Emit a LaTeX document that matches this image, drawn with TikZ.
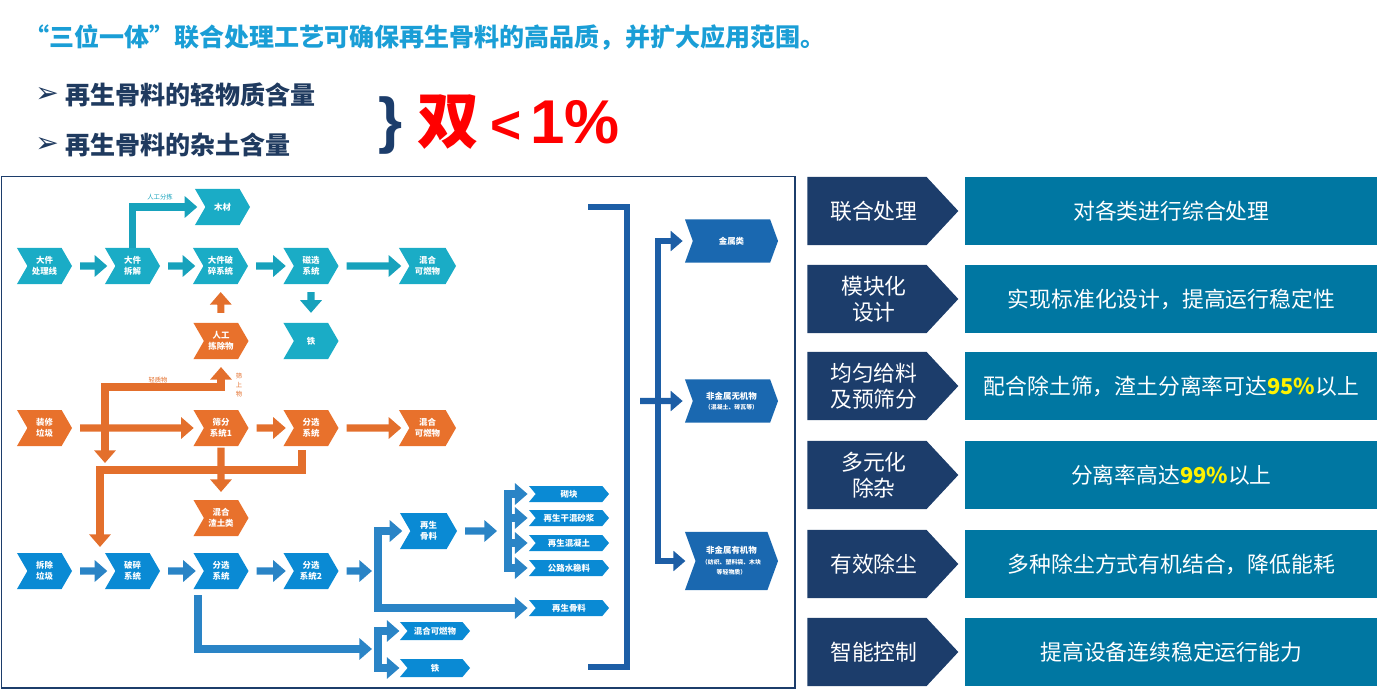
\documentclass[tikz,border=0pt]{standalone}
\usepackage{fontspec}
\setmainfont{Noto Sans CJK SC}
\newfontfamily\dejavu{DejaVu Sans}
\newfontfamily\lsans{Liberation Sans}
\usetikzlibrary{shapes.symbols,arrows.meta,calc}
\definecolor{tealc}{HTML}{1AACC6}
\definecolor{tealarr}{HTML}{17A2BC}
\definecolor{orangec}{HTML}{E8712C}
\definecolor{orangearr}{HTML}{E36F2C}
\definecolor{bluec}{HTML}{0A8AD4}
\definecolor{bluearr}{HTML}{2A84C6}
\definecolor{deepblue}{HTML}{1A68B0}
\definecolor{deeparr}{HTML}{1D5EA6}
\definecolor{navy}{HTML}{1C3D6B}
\definecolor{panel}{HTML}{0077A2}
\definecolor{titlec}{HTML}{1A9ED6}
\definecolor{bulletc}{HTML}{1F3A5F}
\newcommand{\tgpad}{\hspace*{10pt}}
\tikzset{
chev/.style={shape=signal,signal to=east,signal from=west,signal pointer angle=120,
minimum width=1.375cm,minimum height=0.9cm,inner sep=0pt,text=white,
font=\fontsize{6}{7.5}\selectfont\bfseries,align=center},
tchev/.style={chev,fill=tealc},
ochev/.style={chev,fill=orangec},
bchev/.style={chev,fill=bluec},
smallchev/.style={chev,fill=bluec,signal pointer angle=100,minimum width=2cm,minimum height=0.4cm},
bigchev/.style={chev,fill=deepblue,signal pointer angle=140,minimum width=2.325cm},
flowarr/.style={line width=5pt,-{Triangle[width=15pt,length=9pt]}},
tarr/.style={flowarr,draw=tealarr,shorten <=5.5pt,shorten >=5.5pt},
oarr/.style={flowarr,draw=orangearr,shorten <=5.5pt,shorten >=5.5pt},
barr/.style={flowarr,draw=bluearr,shorten <=5.5pt,shorten >=5.5pt},
darr/.style={line width=4.3pt,draw=deeparr,-{Triangle[width=14pt,length=8.5pt]},shorten >=7pt},
dline/.style={line width=4.3pt,draw=deeparr},
tinylabel/.style={font=\fontsize{4.5}{6.4}\selectfont,inner sep=0pt,align=center},
tagbox/.style={shape=signal,signal to=east,signal from=nowhere,signal pointer angle=94,
fill=navy,text=white,minimum width=3.775cm,minimum height=1.7cm,inner sep=0pt,
font=\fontsize{15.5}{18.5}\selectfont,align=center},
descbox/.style={fill=panel,text=white,minimum width=10.3cm,minimum height=1.7cm,inner sep=0pt,
font=\fontsize{15.5}{18.5}\selectfont}
}
\begin{document}
\begin{tikzpicture}[x=0.025cm,y=-0.025cm]
\useasboundingbox (0,0) rectangle (1379,690);

% heading
\node[anchor=west,inner sep=0pt,text=titlec,font=\fontsize{17.8}{20}\selectfont\bfseries] (title) at (24,38)
  {“三位一体”联合处理工艺可确保再生骨料的高品质，并扩大应用范围。};
\node[anchor=west,inner sep=0pt,text=bulletc,font=\dejavu\fontsize{20}{20}\selectfont] (mk1) at (35,95) {➢};
\node[anchor=west,inner sep=0pt,text=bulletc,font=\fontsize{17.8}{20}\selectfont\bfseries] (b1) at (65,95) {再生骨料的轻物质含量};
\node[anchor=west,inner sep=0pt,text=bulletc,font=\dejavu\fontsize{20}{20}\selectfont] (mk2) at (35,145) {➢};
\node[anchor=west,inner sep=0pt,text=bulletc,font=\fontsize{17.8}{20}\selectfont\bfseries] (b2) at (65,145) {再生骨料的杂土含量};
\node[text=navy,inner sep=0pt,font=\lsans\fontsize{44}{44}\selectfont\bfseries] (brace) at (391,126) {\}};
\node[text=red,inner sep=0pt,font=\fontsize{44}{44}\selectfont\bfseries] (shuang) at (448,122) {双};
\node[text=red,inner sep=0pt,font=\lsans\fontsize{38}{38}\selectfont\bfseries] (lt) at (506,127) {<};
\node[text=red,inner sep=0pt,font=\lsans\fontsize{44}{44}\selectfont\bfseries] (pct) at (575,122) {1\%};

% left frame
\draw[navy,line width=1.4pt] (1.5,176.5) rectangle (795,688);

% teal line
\node[tchev] (dj1) at (44.5,266) {大件\\处理线};
\node[tchev] (dj2) at (132.5,266) {大件\\拆解};
\node[tchev] (dj3) at (220.5,266) {大件破\\碎系统};
\node[tchev] (cx) at (311,266) {磁选\\系统};
\node[tchev,minimum width=1.425cm] (hk1) at (427.5,266) {混合\\可燃物};
\node[tchev] (mc) at (222.5,207) {木材};
\node[tchev] (tie1) at (311,341) {铁};
\node[tinylabel,text=tealarr] (lbfj) at (160,197) {人工分拣};

% orange line
\node[ochev] (rg) at (221,341) {人工\\拣除物};
\node[ochev] (zx) at (44.5,428) {装修\\垃圾};
\node[ochev] (sf) at (221,428) {筛分\\系统1};
\node[ochev] (fx1) at (311,428) {分选\\系统};
\node[ochev,minimum width=1.425cm] (hk2) at (427.5,428) {混合\\可燃物};
\node[ochev] (zt) at (221,518) {混合\\渣土类};
\node[tinylabel,text=orangearr] (lbqz) at (158,380) {轻质物};
\node[tinylabel,text=orangearr] (lbss) at (239,385) {筛\\上\\物};

% blue line
\node[bchev] (cc) at (44.5,571) {拆除\\垃圾};
\node[bchev] (ps) at (132.5,571) {破碎\\系统};
\node[bchev] (fx2) at (221,571) {分选\\系统};
\node[bchev] (fx3) at (311,571) {分选\\系统2};
\node[bchev,minimum width=1.425cm] (zs) at (428.5,531) {再生\\骨料};
\node[smallchev] (p1) at (569,494) {砌块};
\node[smallchev] (p2) at (569,518) {再生干混砂浆};
\node[smallchev] (p3) at (569,543) {再生混凝土};
\node[smallchev] (p4) at (569,568) {公路水稳料};
\node[smallchev] (p5) at (569,608) {再生骨料};
\node[smallchev,minimum width=1.75cm,minimum height=0.45cm] (hk3) at (435,631) {混合可燃物};
\node[smallchev,minimum width=1.75cm,minimum height=0.45cm] (tie2) at (435,668) {铁};

% outputs
\node[bigchev,minimum height=1.075cm] (js) at (731.5,241) {金属类};
\node[bigchev,minimum height=1.075cm] (wj) at (731.5,401)
  {非金属无机物\\\fontsize{4.2}{6}\selectfont （混凝土、砖瓦等）};
\node[bigchev,minimum height=1.45cm] (yj) at (731.5,561)
  {非金属有机物\\\fontsize{4.2}{6}\selectfont （纺织、塑料袋、木块\\\fontsize{4.2}{6}\selectfont 等轻物质）};

% teal arrows
\draw[tarr] (dj1) -- (dj2);
\draw[tarr] (dj2) -- (dj3);
\draw[tarr] (dj3) -- (cx);
\draw[tarr] (cx) -- (hk1);
\draw[tarr,shorten >=7pt] (cx) -- (tie1);
\draw[tarr,shorten <=0pt] (dj2.north) |- (mc);

% orange arrows
\draw[oarr,shorten >=7pt] (zx) -- (sf);
\draw[oarr] (sf) -- (fx1);
\draw[oarr] (fx1) -- (hk2);
\draw[oarr,shorten <=1pt] (sf) -- (zt);
\draw[oarr,shorten <=7pt] (rg) -- (dj3);
\coordinate (q1) at (105,387);
\coordinate (q2) at (105,463);
\coordinate (q3) at (100,470);
\coordinate (q4) at (100,547);
\draw[oarr,{Triangle[width=15pt,length=9pt]}-{Triangle[width=15pt,length=9pt]},shorten <=0pt] (q2) -- (q1) -| (rg);
\draw[oarr,shorten <=0pt,shorten >=0pt] ($(fx1.south)+(-9,4)$) |- (q3) -- (q4);

% blue arrows
\draw[barr] (cc) -- (ps);
\draw[barr] (ps) -- (fx2);
\draw[barr] (fx2) -- (fx3);
\coordinate (br1) at (378,649);
\coordinate (br2) at (378,571);
\coordinate (br3) at (508,531);
\draw[barr,shorten <=0pt,shorten >=4.3pt] ($(fx2.south)+(-23,6)$) |- (br1);
\draw[barr,shorten <=0pt] (br1) |- (hk3);
\draw[barr,shorten <=0pt] (br1) |- (tie2);
\draw[barr,shorten >=4.3pt] (fx3) -- (br2);
\draw[barr,shorten <=0pt] (br2) |- (zs);
\draw[barr,shorten <=0pt] (br2) |- (p5);
\draw[barr,shorten >=7.8pt] (zs) -- (br3);
\foreach \p in {p1,p2,p3,p4}
  \draw[barr,shorten <=0pt] (br3) |- (\p);

% collecting bracket
\coordinate (bk1) at (588,207);
\coordinate (bk2) at (627,207);
\coordinate (bk3) at (627,667);
\coordinate (bk4) at (588,667);
\draw[dline] (bk1) -- (bk2) -- (bk3) -- (bk4);
\coordinate (bk5) at (640,401);
\coordinate (br4) at (658,401);
\draw[darr] (bk5) -- (wj);
\draw[darr] (br4) |- (js);
\draw[darr] (br4) |- (yj);

% right panel
\node[tagbox,anchor=west] (t1) at (807,211) {\tgpad 联合处理};
\node[tagbox,anchor=west] (t2) at (807,299) {\tgpad 模块化\\\tgpad 设计};
\node[tagbox,anchor=west] (t3) at (807,386) {\tgpad 均匀给料\\\tgpad 及预筛分};
\node[tagbox,anchor=west] (t4) at (807,475) {\tgpad 多元化\\\tgpad 除杂};
\node[tagbox,anchor=west] (t5) at (807,564) {\tgpad 有效除尘};
\node[tagbox,anchor=west] (t6) at (807,652) {\tgpad 智能控制};
\node[descbox,anchor=west] (d1) at (965,211) {对各类进行综合处理};
\node[descbox,anchor=west] (d2) at (965,299) {实现标准化设计，提高运行稳定性};
\node[descbox,anchor=west] (d3) at (965,386) {配合除土筛，渣土分离率可达{\bfseries\color{yellow}95\%}以上};
\node[descbox,anchor=west] (d4) at (965,475) {分离率高达{\bfseries\color{yellow}99\%}以上};
\node[descbox,anchor=west] (d5) at (965,564) {多种除尘方式有机结合，降低能耗};
\node[descbox,anchor=west] (d6) at (965,652) {提高设备连续稳定运行能力};
\end{tikzpicture}
\end{document}
